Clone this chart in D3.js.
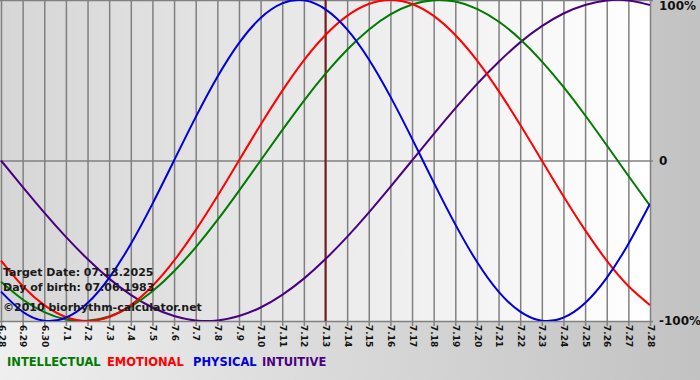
<!DOCTYPE html>
<html>
<head>
<meta charset="utf-8">
<script src="https://cdn.jsdelivr.net/npm/d3@7"></script>
<style>
  html, body { margin: 0; padding: 0; }
  body { width: 700px; height: 380px; overflow: hidden; }
  svg { display: block; font-family: "DejaVu Sans", Verdana, sans-serif; font-weight: bold; }
</style>
</head>
<body>
<div id="chart"></div>
<script>
// day labels, 6.28 -> 7.28
let days = ['6.28', '6.29', '6.30', '7.1', '7.2', '7.3', '7.4', '7.5', '7.6', '7.7', '7.8', '7.9', '7.10',
  '7.11', '7.12', '7.13', '7.14', '7.15', '7.16', '7.17', '7.18', '7.19', '7.20', '7.21', '7.22', '7.23',
  '7.24', '7.25', '7.26', '7.27', '7.28']
let physical = [-0.817, -0.942, -0.998, -0.979, -0.888, -0.731, -0.520, -0.270, 0, 0.270, 0.520, 0.731,
  0.888, 0.979, 0.998, 0.942, 0.817, 0.631, 0.398, 0.136, -0.136, -0.398, -0.631, -0.817, -0.942, -0.998,
  -0.979, -0.888, -0.731, -0.520, -0.270]
let emotional = [-0.624, -0.782, -0.901, -0.975, -1, -0.975, -0.901, -0.782, -0.624, -0.434, -0.223, 0,
  0.223, 0.434, 0.624, 0.782, 0.901, 0.975, 1, 0.975, 0.901, 0.782, 0.624, 0.434, 0.223, 0, -0.223,
  -0.434, -0.624, -0.782, -0.901]
let intellectual = [-0.756, -0.866, -0.945, -0.990, -0.999, -0.972, -0.910, -0.815, -0.690, -0.541, -0.372,
  -0.189, 0, 0.189, 0.372, 0.541, 0.690, 0.815, 0.910, 0.972, 0.999, 0.990, 0.945, 0.866, 0.756, 0.618,
  0.458, 0.282, 0.095, -0.095, -0.282]
let intuitive = [0, -0.165, -0.325, -0.476, -0.614, -0.736, -0.837, -0.916, -0.969, -0.997, -0.997, -0.969,
  -0.916, -0.837, -0.736, -0.614, -0.476, -0.325, -0.165, 0, 0.165, 0.325, 0.476, 0.614, 0.736, 0.837,
  0.916, 0.969, 0.997, 0.997, 0.969]
let yTicks = [1, 0, -1]
let yTickLabels = ['100%', '0', '-100%']
let targetDay = '7.13'
let infoLines = ['Target Date: 07.13.2025', 'Day of birth: 07.06.1983', '\u00a92010 biorhythm-calculator.net']
let legendNames = ['INTELLECTUAL', 'EMOTIONAL', 'PHYSICAL', 'INTUITIVE']

let width = 700
let height = 380
let plotLeft = 1
let plotRight = 650
let plotTop = 0
let plotBottom = 321
let legendX = [7, 107, 193, 262]  // 图例文字的起点

let series = [
  { name: 'INTUITIVE', values: intuitive, color: '#4b0082' },
  { name: 'INTELLECTUAL', values: intellectual, color: '#007a00' },
  { name: 'EMOTIONAL', values: emotional, color: '#ff0000' },
  { name: 'PHYSICAL', values: physical, color: '#0000dd' }
]
let legendColor = { INTELLECTUAL: '#007a00', EMOTIONAL: '#ff0000', PHYSICAL: '#0000dd', INTUITIVE: '#4b0082' }

let svg = d3.select('#chart').append('svg')
  .attr('width', width)
  .attr('height', height)

let defs = svg.append('defs')
let bg = defs.append('linearGradient').attr('id', 'bg')
bg.append('stop').attr('offset', '0%').attr('stop-color', '#efefef')
bg.append('stop').attr('offset', '100%').attr('stop-color', '#c2c2c2')
let pg = defs.append('linearGradient').attr('id', 'pg')
pg.append('stop').attr('offset', '0%').attr('stop-color', '#d6d6d6')
pg.append('stop').attr('offset', '100%').attr('stop-color', '#ffffff')
defs.append('clipPath').attr('id', 'clip')
  .append('rect').attr('x', 0).attr('y', plotTop).attr('width', plotRight).attr('height', plotBottom - plotTop)

svg.append('rect').attr('width', width).attr('height', height).attr('fill', 'url(#bg)')
svg.append('rect').attr('x', 0).attr('y', plotTop)
  .attr('width', plotRight).attr('height', plotBottom - plotTop)
  .attr('fill', 'url(#pg)')

let x = d3.scalePoint().domain(days).range([plotLeft, plotRight])
let y = d3.scaleLinear().domain([-1, 1]).range([plotBottom, plotTop])

// vertical grid + ticks
let xAxis = d3.axisBottom(x).tickSize(plotBottom - plotTop + 5).tickPadding(4)
let gx = svg.append('g').attr('transform', 'translate(0,' + plotTop + ')').call(xAxis)
gx.select('.domain').remove()
gx.selectAll('line').attr('stroke', '#808080').attr('stroke-width', 1.5)
gx.selectAll('text')
  .attr('transform', 'rotate(90)')
  .attr('text-anchor', 'start')
  .attr('dy', '0.32em')
  .attr('x', plotBottom + 4)
  .attr('y', 0)
  .attr('font-size', 9)
  .attr('font-family', '"DejaVu Sans", Verdana, sans-serif')
  .attr('font-weight', 'bold')
  .attr('fill', '#111')

// horizontal grid
let yAxis = d3.axisRight(y).tickValues(yTicks).tickSize(plotRight + 3)
  .tickFormat(function (d, i) { return yTickLabels[i] }).tickPadding(6)
let gy = svg.append('g').call(yAxis)
gy.select('.domain').remove()
gy.selectAll('line').attr('stroke', '#808080').attr('stroke-width', 1.5)
gy.selectAll('text')
  .attr('font-size', 12)
  .attr('font-family', '"DejaVu Sans", Verdana, sans-serif')
  .attr('font-weight', 'bold')
  .attr('fill', '#111')
gy.selectAll('.tick').filter(function (d) { return d === 1 }).select('text').attr('dy', '0.75em')

// target date line
svg.append('line')
  .attr('x1', x(targetDay)).attr('x2', x(targetDay))
  .attr('y1', plotTop).attr('y2', plotBottom)
  .attr('stroke', '#7a1a1a').attr('stroke-width', 2)

let line = d3.line()
  .x(function (d, i) { return x(days[i]) })
  .y(function (d) { return y(d) })
  .curve(d3.curveNatural)

svg.append('g').attr('clip-path', 'url(#clip)')
  .selectAll('path')
  .data(series)
  .enter()
  .append('path')
  .attr('d', function (d) { return line(d.values) })
  .attr('fill', 'none')
  .attr('stroke', function (d) { return d.color })
  .attr('stroke-width', 2)

// info text
svg.append('g').selectAll('text')
  .data(infoLines)
  .enter()
  .append('text')
  .attr('x', 3)
  .attr('y', function (d, i) { return [276, 291, 311][i] })
  .attr('font-size', 11)
  .attr('fill', '#1a1a1a')
  .text(function (d) { return d })

// legend
svg.append('g').selectAll('text')
  .data(legendNames)
  .enter()
  .append('text')
  .attr('x', function (d, i) { return legendX[i] })
  .attr('y', 366)
  .attr('font-size', 11.5)
  .attr('fill', function (d) { return legendColor[d] })
  .text(function (d) { return d })
</script>
</body>
</html>
